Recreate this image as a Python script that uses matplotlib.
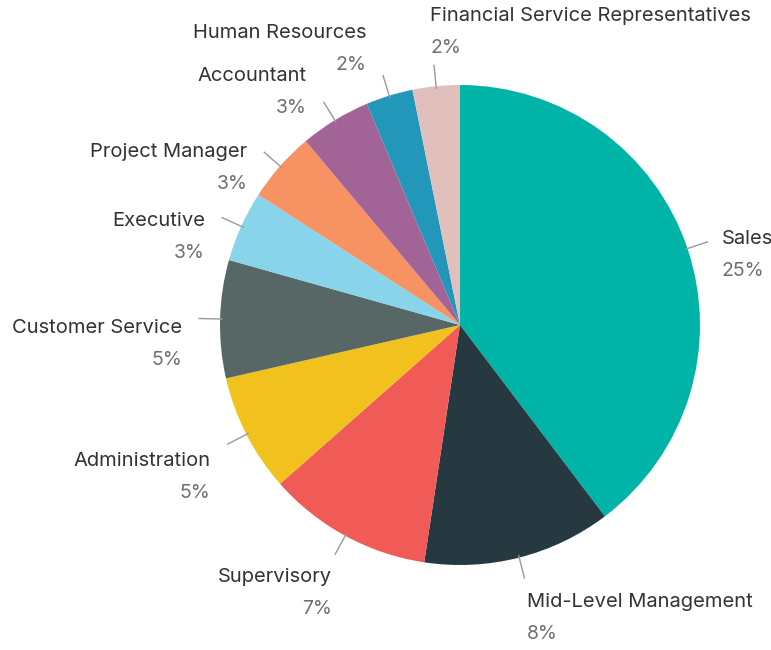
import matplotlib
matplotlib.use("Agg")
import matplotlib.pyplot as plt
import numpy as np

roles = ["Sales", "Mid-Level Management", "Supervisory", "Administration",
         "Customer Service", "Executive", "Project Manager", "Accountant",
         "Human Resources", "Financial Service Representatives"]
shares = [25, 8, 7, 5, 5, 3, 3, 3, 2, 2]
colors = ["#00b4a8", "#263840", "#f15b57", "#f1c21d", "#576766",
          "#88d4eb", "#f79263", "#a26497", "#2397ba", "#e0bfbd"]

plt.rcParams['font.family'] = ['Inter', 'DejaVu Sans']

fig = plt.figure(figsize=(7.71, 6.5), dpi=100)
ax = fig.add_axes([0, 0, 1, 1])

cx, cy, r = 460, 325, 240
wedges, _ = ax.pie(shares, colors=colors, startangle=90, counterclock=False,
                   center=(cx, cy), radius=r,
                   wedgeprops=dict(linewidth=0))

for w, name, val in zip(wedges, roles, shares):
    # mid angle of the wedge, matplotlib degrees (ccw from +x)
    ang = np.deg2rad((w.theta1 + w.theta2) / 2)
    s, c = np.cos(ang), np.sin(ang)   # s: horizontal part, c: vertical part
    x0, y0 = cx + (r - 2) * s, cy + (r - 2) * c
    x1, y1 = cx + (r + 21) * s, cy + (r + 21) * c
    ax.plot([x0, x1], [y0, y1], color="#999999", lw=1)

    if s > -0.15:
        ha = "left"
        dx = 17 * s - 2
    else:
        ha = "right"
        dx = -17 if c > -0.8 else -3
    # labels near the top sit above the leader, near the bottom below it
    down = 10 - 15 * c - 150 * max(0, c - 0.7) - 13 * max(0, s - 0.3)
    ax.text(x1 + dx, y1 - down, name, ha=ha, va="center",
            fontsize=14.5, color="#333333")
    ax.text(x1 + dx, y1 - down - 32, "{}%".format(val), ha=ha, va="center",
            fontsize=14, color="#707070")

ax.set_xlim(0, 771)
ax.set_ylim(0, 650)
ax.axis("off")

fig.savefig("out.png", dpi=100)
